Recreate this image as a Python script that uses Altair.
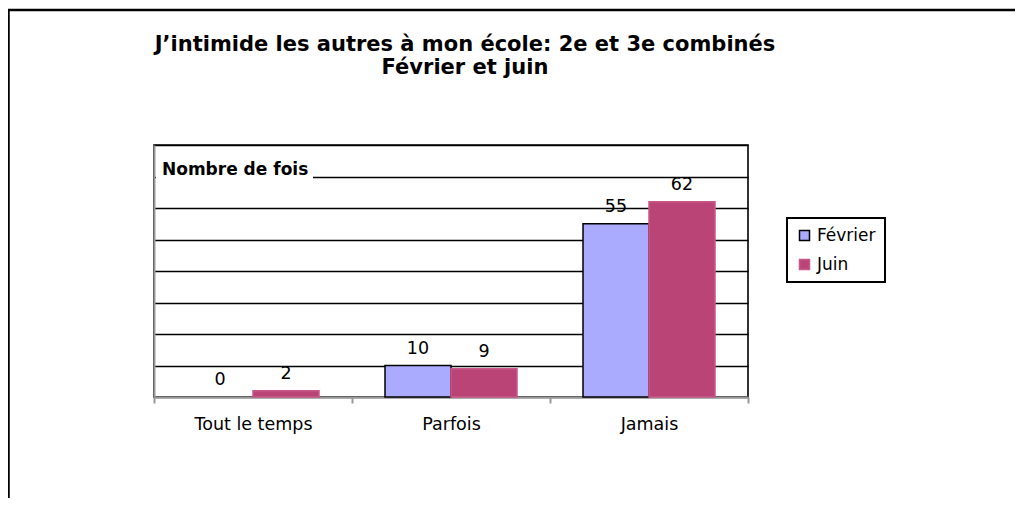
import altair as alt
import pandas as pd

categories = ["Tout le temps", "Parfois", "Jamais"]
series = ["Février", "Juin"]
fevrier = [0, 10, 55]
juin = [2, 9, 62]
colors = ["#AAAAFF", "#BB4477"]
strokes = ["#000000", "#C9578A"]
title_lines = ["J’intimide les autres à mon école: 2e et 3e combinés", "Février et juin"]
y_label = "Nombre de fois"

rows = []
for c, f, j in zip(categories, fevrier, juin):
    rows.append({"cat": c, "series": series[0], "val": f})
    rows.append({"cat": c, "series": series[1], "val": j})
df = pd.DataFrame(rows)
one = pd.DataFrame({"a": [0]})

PW, PH = 594, 252
PAD_L, PAD_T = 146, 137
TOTAL_W, TOTAL_H = 1007, 490

x_enc = alt.X(
    "cat:N", sort=categories,
    scale=alt.Scale(paddingInner=0, paddingOuter=0),
    axis=alt.Axis(title=None, labelAngle=0, labelFontSize=17.5, labelColor="black",
                  labelFont="DejaVu Sans", domainColor="#999999", domainWidth=2,
                  tickColor="#999999", tickWidth=2, tickSize=6, tickBand="extent",
                  labelPadding=12, grid=False),
)
y_enc = alt.Y(
    "val:Q", scale=alt.Scale(domain=[0, 80]),
    axis=alt.Axis(title=None, labels=False, ticks=False, values=list(range(0, 81, 10)),
                  grid=True, gridColor="black", gridWidth=1.6,
                  domainColor="#999999", domainWidth=2),
)
xoff = alt.XOffset("series:N", sort=series, scale=alt.Scale(domain=series, paddingInner=0, paddingOuter=0.5))

leg = alt.Legend(title=None, orient="none", legendX=633, legendY=73, symbolType="square",
                 symbolSize=100, symbolStrokeWidth=1.5, labelFontSize=17, labelFont="DejaVu Sans",
                 labelColor="black", labelOffset=4, rowPadding=11, padding=9,
                 strokeColor="black")

bars = alt.Chart(df).transform_filter("datum.val > 0").mark_bar(strokeWidth=1.5).encode(
    x=x_enc, y=y_enc, xOffset=xoff,
    fill=alt.Fill("series:N", scale=alt.Scale(domain=series, range=colors), legend=leg),
    stroke=alt.Stroke("series:N", scale=alt.Scale(domain=series, range=strokes), legend=leg),
)

labels = alt.Chart(df).mark_text(baseline="bottom", dy=-8, fontSize=17.5, font="DejaVu Sans",
                                 color="black").encode(
    x=x_enc, y=y_enc, xOffset=xoff, text="val:Q"
)

cover = alt.Chart(one).mark_rect(fill="white").encode(
    x=alt.value(2), x2=alt.value(159), y=alt.value(22), y2=alt.value(36)
)
ylab = alt.Chart(one).mark_text(align="left", baseline="alphabetic", fontSize=17,
                                font="DejaVu Sans", fontWeight="bold", color="black").encode(
    x=alt.value(8), y=alt.value(30), text=alt.value(y_label)
)

title = alt.Chart(one).mark_text(align="center", baseline="alphabetic", fontSize=21,
                                 font="DejaVu Sans", fontWeight="bold", color="black",
                                 lineHeight=23).encode(
    x=alt.value(311), y=alt.value(-94), text=alt.value(title_lines)
)

frame_top = alt.Chart(one).mark_rule(color="black", strokeWidth=2.5).encode(
    x=alt.value(-PAD_L), x2=alt.value(TOTAL_W - PAD_L), y=alt.value(-135)
)
frame_left = alt.Chart(one).mark_rule(color="black", strokeWidth=2.5).encode(
    x=alt.value(-PAD_L + 0.5), y=alt.value(-135), y2=alt.value(TOTAL_H)
)

chart = alt.layer(bars, labels, cover, ylab, title, frame_top, frame_left).properties(
    width=PW, height=PH,
    autosize=alt.AutoSizeParams(type="none"),
    padding={"left": PAD_L, "top": PAD_T, "right": TOTAL_W - PAD_L - PW,
             "bottom": TOTAL_H - PAD_T - PH},
    background="white",
).configure_view(stroke="black", strokeWidth=1.6).configure_legend(strokeWidth=2)

chart.save("out.html", embed_options={"renderer": "svg", "actions": False})
